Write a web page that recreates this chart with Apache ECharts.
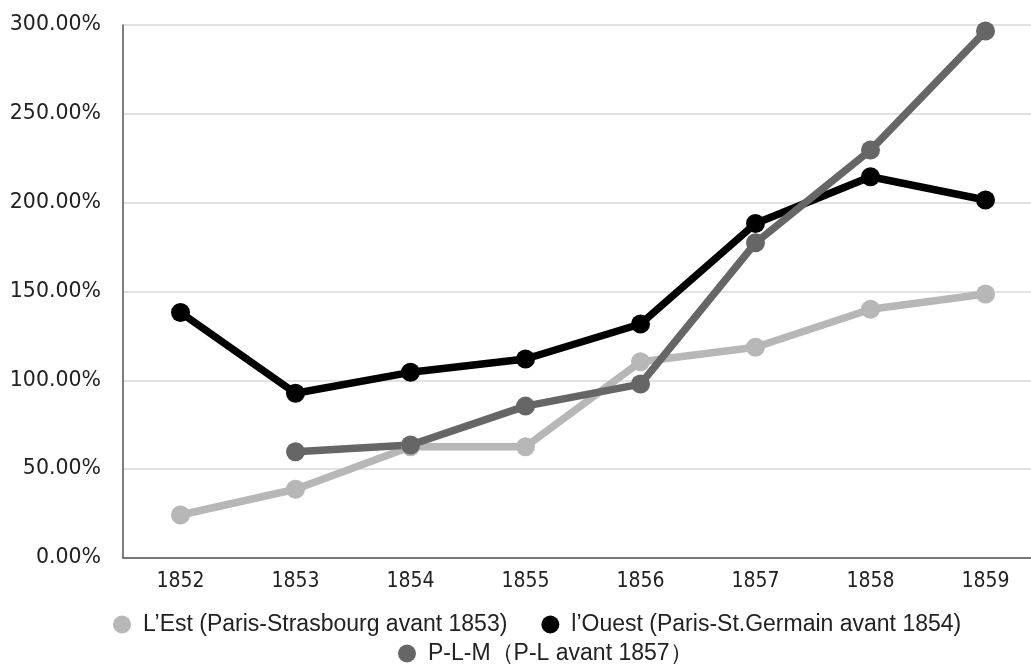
<!DOCTYPE html>
<html style="height: 100%">
<head>
    <meta charset="UTF-8">
</head>
<body style="height: 100%; margin: 0; background: #fff">
    <div id="container" style="width: 1031px; height: 664px"></div>
    <script type="text/javascript" src="https://cdn.jsdelivr.net/npm/echarts@6.0.0/dist/echarts.min.js"></script>
    <script type="text/javascript">
    var years = ['1852', '1853', '1854', '1855', '1856', '1857', '1858', '1859'];
    var est = [24.2, 38.7, 62.6, 62.6, 110.5, 118.6, 140.0, 148.6];
    var ouest = [138.2, 92.7, 104.5, 112.0, 131.7, 188.3, 214.6, 201.5];
    var plm = [null, 59.8, 63.6, 85.5, 97.9, 177.4, 229.6, 296.6];
    var yTicks = [0, 50, 100, 150, 200, 250, 300];

    var names = ['L’Est (Paris-Strasbourg avant 1853)', 'l’Ouest (Paris-St.Germain avant 1854)', 'P-L-M（P-L avant 1857）'];
    var colors = ['#b7b7b7', '#000000', '#666666'];
    var narrow = '"DejaVu Sans Condensed", "Liberation Sans", sans-serif';

    var myChart = echarts.init(document.getElementById('container'));

    function mkSeries(name, data, color) {
        return {
            name: name,
            type: 'line',
            data: data,
            symbol: 'circle',
            symbolSize: 19,
            lineStyle: { width: 7.5, color: color },
            itemStyle: { color: color },
            connectNulls: false,
            animation: false
        };
    }

    function mkLegend(items, left, top) {
        return {
            data: items,
            top: top,
            left: left,
            icon: 'circle',
            itemWidth: 18,
            itemHeight: 18,
            itemGap: 34,
            padding: 0,
            itemStyle: { borderWidth: 0 },
            textStyle: {
                fontFamily: '"Liberation Sans", Arial, sans-serif',
                fontSize: 23,
                color: '#222',
                padding: [0, 0, 0, 7]
            }
        };
    }

    var option = {
        color: colors,
        animation: false,
        grid: { left: 123, width: 920, top: 25, height: 533, outerBoundsMode: 'none' },
        legend: [
            mkLegend([names[0], names[1]], 113, 613),
            mkLegend([names[2]], 398, 642)
        ],
        xAxis: {
            type: 'category',
            data: years,
            boundaryGap: true,
            axisTick: { show: false },
            axisLine: { lineStyle: { color: '#555', width: 1.5 } },
            axisLabel: { fontFamily: narrow, fontSize: 21, color: '#222', margin: 13 }
        },
        yAxis: {
            type: 'value',
            min: yTicks[0],
            max: yTicks[yTicks.length - 1],
            interval: 50,
            axisLine: { show: true, lineStyle: { color: '#555', width: 1.5 } },
            axisTick: { show: false },
            splitLine: { lineStyle: { color: '#d9d9d9', width: 1.5 } },
            axisLabel: {
                fontFamily: 'DejaVu Sans',
                fontSize: 20.5,
                color: '#222',
                margin: 22,
                formatter: function (v) { return v.toFixed(2) + '%'; }
            }
        },
        series: [
            mkSeries(names[0], est, colors[0]),
            mkSeries(names[1], ouest, colors[1]),
            mkSeries(names[2], plm, colors[2])
        ]
    };
    myChart.setOption(option);
    </script>
</body>
</html>
